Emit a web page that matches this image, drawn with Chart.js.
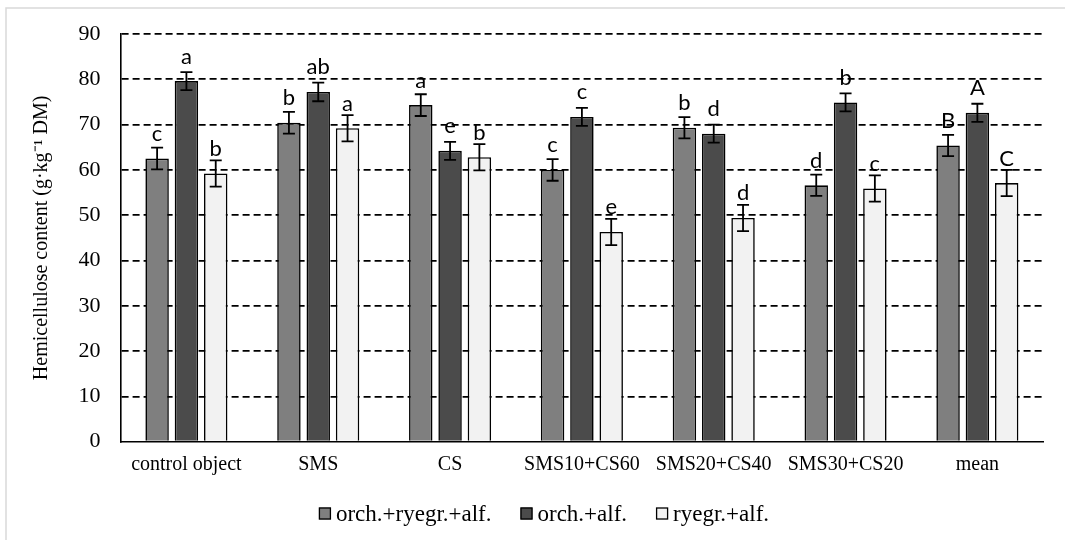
<!DOCTYPE html>
<html>
<head>
<meta charset="utf-8">
<script src="https://cdn.jsdelivr.net/npm/chart.js@4/dist/chart.umd.min.js"></script>
<style>
  html, body { margin: 0; padding: 0; background: #ffffff; }
  #wrap { position: relative; width: 1065px; height: 540px; }
  canvas { display: block; }
</style>
</head>
<body>
<div id="wrap"><canvas id="chart" width="1065" height="540"></canvas></div>
<script>
// Treatments on the category axis
const categories = ['control object', 'SMS', 'CS', 'SMS10+CS60', 'SMS20+CS40', 'SMS30+CS20', 'mean'];

// Sward mixtures (series names)
const seriesNames = ['orch.+ryegr.+alf.', 'orch.+alf.', 'ryegr.+alf.'];

// Hemicellulose content, g·kg⁻¹ DM
const orchRyegrAlf = [62.5, 70.4, 74.3, 60.0, 69.3, 56.6, 65.4];
const orchAlf      = [79.6, 77.2, 64.2, 71.7, 68.0, 74.9, 72.6];
const ryegrAlf     = [59.2, 69.2, 62.8, 46.3, 49.4, 55.9, 57.1];

// Standard error for each bar
const orchRyegrAlfErr = [2.4, 2.4, 2.4, 2.4, 2.35, 2.35, 2.35];
const orchAlfErr      = [2.0, 2.05, 2.0, 2.0, 2.0, 2.0, 2.0];
const ryegrAlfErr     = [2.9, 2.9, 2.9, 2.9, 2.9, 2.9, 2.9];

// Homogeneous-group letters
const orchRyegrAlfLetters = ['c', 'b', 'a', 'c', 'b', 'd', 'B'];
const orchAlfLetters      = ['a', 'ab', 'e', 'c', 'd', 'b', 'A'];
const ryegrAlfLetters     = ['b', 'a', 'b', 'e', 'd', 'c', 'C'];

// Y axis ticks
const yTicks = [0, 10, 20, 30, 40, 50, 60, 70, 80, 90];

const seriesColors = ['#7f7f7f', '#4b4b4b', '#f2f2f2'];
const seriesValues = [orchRyegrAlf, orchAlf, ryegrAlf];
const seriesErrors = [orchRyegrAlfErr, orchAlfErr, ryegrAlfErr];
const seriesLetters = [orchRyegrAlfLetters, orchAlfLetters, ryegrAlfLetters];

const SERIF = '"Liberation Serif", "Times New Roman", serif';

// Error bars and letters above each bar
const barAnnotations = {
  id: 'barAnnotations',
  afterDatasetsDraw(chart) {
    const ctx = chart.ctx;
    const y = chart.scales.y;
    ctx.save();
    chart.data.datasets.forEach((ds, i) => {
      const meta = chart.getDatasetMeta(i);
      meta.data.forEach((bar, j) => {
        const v = ds.data[j];
        const e = ds.errors[j];
        const yTop = y.getPixelForValue(v + e);
        const yBot = y.getPixelForValue(v - e);
        const x = bar.x;
        ctx.strokeStyle = '#000';
        ctx.lineWidth = 1.8;
        ctx.beginPath();
        ctx.moveTo(x, yTop); ctx.lineTo(x, yBot);
        ctx.moveTo(x - 6, yTop); ctx.lineTo(x + 6, yTop);
        ctx.moveTo(x - 6, yBot); ctx.lineTo(x + 6, yBot);
        ctx.stroke();

        ctx.fillStyle = '#000';
        ctx.font = '22px Lato, "Open Sans", sans-serif';
        ctx.textAlign = 'center';
        ctx.textBaseline = 'alphabetic';
        ctx.fillText(ds.letters[j], x, y.getPixelForValue(v) - 17.5);
      });
    });
    ctx.restore();
  }
};

// Legend row and outer frame
const legendAndFrame = {
  id: 'legendAndFrame',
  afterDraw(chart) {
    const ctx = chart.ctx;
    ctx.save();
    // frame lines
    ctx.strokeStyle = '#d9d9d9';
    ctx.lineWidth = 1.5;
    ctx.beginPath();
    ctx.moveTo(6, 540); ctx.lineTo(6, 8); ctx.lineTo(1065, 8);
    ctx.stroke();

    // legend
    ctx.font = '23px ' + SERIF;
    const box = 12, gapText = 5, gapItem = 29;
    const widths = chart.data.datasets.map(ds => ctx.measureText(ds.label).width);
    const total = widths.reduce((a, w) => a + box + gapText + w, 0) + gapItem * (widths.length - 1);
    let x = 544 - total / 2;
    const boxTop = 507.5, baseY = 520.5;
    chart.data.datasets.forEach((ds, i) => {
      ctx.fillStyle = ds.backgroundColor;
      ctx.fillRect(x, boxTop, box, box);
      ctx.strokeStyle = '#000';
      ctx.lineWidth = 1.3;
      ctx.strokeRect(x + 0.5, boxTop + 0.5, box - 1, box - 1);
      ctx.fillStyle = '#000';
      ctx.textAlign = 'left';
      ctx.textBaseline = 'alphabetic';
      ctx.fillText(ds.label, x + box + gapText, baseY);
      x += box + gapText + widths[i] + gapItem;
    });
    ctx.restore();
  }
};

new Chart(document.getElementById('chart'), {
  type: 'bar',
  data: {
    labels: categories,
    datasets: seriesNames.map((name, i) => ({
      label: name,
      data: seriesValues[i],
      errors: seriesErrors[i],
      letters: seriesLetters[i],
      backgroundColor: seriesColors[i],
      borderColor: '#000',
      borderWidth: 1.6,
      categoryPercentage: 0.667,
      barPercentage: 0.8
    }))
  },
  options: {
    responsive: false,
    animation: false,
    devicePixelRatio: 1,
    layout: { padding: { top: 34, right: 21.7, left: 0, bottom: 0 } },
    plugins: {
      legend: { display: false },
      tooltip: { enabled: false }
    },
    scales: {
      x: {
        afterFit(s) { s.height = 98.3; },
        grid: { display: false, drawTicks: false },
        border: { display: true, color: '#000', width: 1.6 },
        ticks: {
          padding: 11,
          color: '#000',
          font: { family: SERIF, size: 20 },
          maxRotation: 0,
          autoSkip: false
        }
      },
      y: {
        min: 0,
        max: 90,
        afterFit(s) { s.width = 120.5; },
        afterBuildTicks(s) { s.ticks = yTicks.map(v => ({ value: v })); },
        grid: {
          drawTicks: false,
          color: c => (c.tick && c.tick.value === 0 ? 'rgba(0,0,0,0)' : '#000'),
          lineWidth: 1.8
        },
        border: { display: true, color: '#000', width: 1.6, dash: [7, 4] },
        ticks: {
          padding: 20,
          color: '#000',
          font: { family: SERIF, size: 22 }
        },
        title: {
          display: true,
          text: 'Hemicellulose content (g·kg⁻¹ DM)',
          color: '#000',
          font: { family: SERIF, size: 20 },
          padding: { top: 30, bottom: 0 }
        }
      }
    }
  },
  plugins: [barAnnotations, legendAndFrame]
});
</script>
</body>
</html>
